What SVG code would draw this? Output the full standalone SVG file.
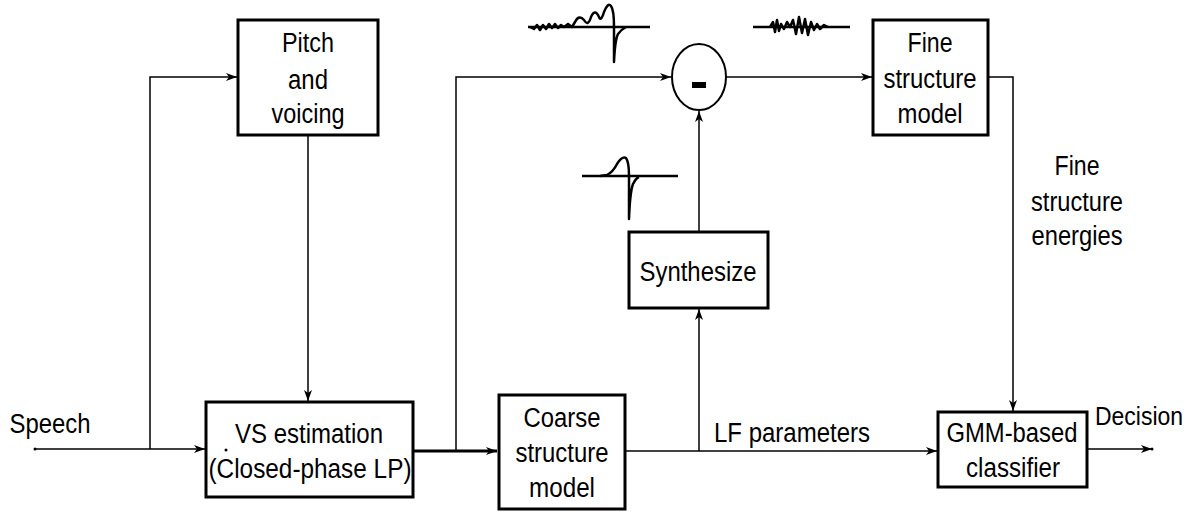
<svg xmlns="http://www.w3.org/2000/svg" width="1197" height="512" viewBox="0 0 1197 512">
<style>
.box{fill:#fff;stroke:#000;stroke-width:3}
.ln{fill:none;stroke:#000;stroke-width:1.5}
.thick{fill:none;stroke:#000;stroke-width:3}
.wave{fill:none;stroke:#000;stroke-width:2.5;stroke-linejoin:round}
text{font-family:"Liberation Sans",Arial,sans-serif;font-size:27px;fill:#000;text-anchor:middle}
</style>
<defs>
<marker id="ah" markerWidth="12" markerHeight="10" refX="11" refY="4" orient="auto" markerUnits="userSpaceOnUse">
<path d="M0,0 L11,4 L0,8 L3,4 z" fill="#000"/>
</marker>
</defs>
<rect width="1197" height="512" fill="#fff"/>
<g id="connectors">
<path class="ln" d="M35,449 H205" marker-end="url(#ah)"/>
<path class="ln" d="M150,449 V77 H237" marker-end="url(#ah)"/>
<path class="ln" d="M308,135 V401" marker-end="url(#ah)"/>
<path class="thick" d="M413,451 H497" marker-end="url(#ah)"/>
<path class="ln" d="M456,451 V77 H671" marker-end="url(#ah)"/>
<path class="ln" d="M726,77 H872" marker-end="url(#ah)"/>
<path class="ln" d="M988,77 H1013 V411" marker-end="url(#ah)"/>
<path class="ln" d="M625,451 H937" marker-end="url(#ah)"/>
<path class="ln" d="M699,451 V309" marker-end="url(#ah)"/>
<path class="ln" d="M699,232 V111" marker-end="url(#ah)"/>
<path class="ln" d="M1087,449 H1152" marker-end="url(#ah)"/>
<circle cx="35" cy="449" r="1.5" fill="#000"/>
<circle cx="1152" cy="449" r="1.5" fill="#000"/>
</g>
<g id="pitch">
<rect class="box" x="238" y="20" width="140" height="115"/>
<text x="308" y="52" textLength="52" lengthAdjust="spacingAndGlyphs">Pitch</text>
<text x="308" y="89" textLength="40" lengthAdjust="spacingAndGlyphs">and</text>
<text x="308" y="123" textLength="73" lengthAdjust="spacingAndGlyphs">voicing</text>
</g>
<g id="vs">
<rect class="box" x="206" y="402" width="207" height="95"/>
<text x="309" y="443" textLength="148" lengthAdjust="spacingAndGlyphs">VS estimation</text>
<text x="310" y="478" textLength="203" lengthAdjust="spacingAndGlyphs">(Closed-phase LP)</text>
<circle cx="226" cy="450" r="1.5" fill="#000"/>
</g>
<g id="coarse">
<rect class="box" x="499" y="395" width="126" height="114"/>
<text x="562" y="427" textLength="77" lengthAdjust="spacingAndGlyphs">Coarse</text>
<text x="562" y="462" textLength="93" lengthAdjust="spacingAndGlyphs">structure</text>
<text x="562" y="497" textLength="66" lengthAdjust="spacingAndGlyphs">model</text>
</g>
<g id="synthesize">
<rect class="box" x="629" y="232" width="139" height="76"/>
<text x="698" y="281" textLength="117" lengthAdjust="spacingAndGlyphs">Synthesize</text>
</g>
<g id="subtract">
<ellipse cx="699" cy="77" rx="27" ry="33" fill="#fff" stroke="#000" stroke-width="2"/>
<rect x="692" y="82" width="14" height="6" fill="#000"/>
</g>
<g id="fine">
<rect class="box" x="873" y="20" width="115" height="115"/>
<text x="930" y="52" textLength="45" lengthAdjust="spacingAndGlyphs">Fine</text>
<text x="930" y="88" textLength="93" lengthAdjust="spacingAndGlyphs">structure</text>
<text x="930" y="123" textLength="65" lengthAdjust="spacingAndGlyphs">model</text>
</g>
<g id="gmm">
<rect class="box" x="938" y="412" width="149" height="75"/>
<text x="1012" y="442" textLength="131" lengthAdjust="spacingAndGlyphs">GMM-based</text>
<text x="1013" y="477" textLength="94" lengthAdjust="spacingAndGlyphs">classifier</text>
</g>
<g id="labels">
<text x="50" y="433" textLength="81" lengthAdjust="spacingAndGlyphs">Speech</text>
<text x="792" y="442" textLength="156" lengthAdjust="spacingAndGlyphs">LF parameters</text>
<text x="1077" y="175" textLength="45" lengthAdjust="spacingAndGlyphs">Fine</text>
<text x="1077" y="211" textLength="92" lengthAdjust="spacingAndGlyphs">structure</text>
<text x="1077" y="245" textLength="91" lengthAdjust="spacingAndGlyphs">energies</text>
<text x="1139" y="425" style="font-size:25px" textLength="88" lengthAdjust="spacingAndGlyphs">Decision</text>
</g>
<g id="waveforms">
<path class="wave" d="M528,27 H650"/>
<path class="wave" d="M530,27 L534,29 L537,25 L540,30 L543,25 L546,29 L549,24 L552,28 L555,24 L558,28 L561,25 L564,27 L568,24 L572,27 L575,22 Q579,14 584,20 Q588,27 591,17 Q595,8 599,17 Q601,22 604,12 Q608,2 611,6 Q614,10 614,27 L614,62 Q615,40 618,34 Q622,29 626,27"/>
<path class="wave" d="M753,27 H850"/>
<path class="wave" d="M770,27 L773,22 L775,32 L777,20 L779,31 L781,24 L784,29 L787,22 L790,27 L793,20 L796,34 L799,17 L802,33 L805,19 L808,35 L811,22 L814,30 L817,24 L820,29 L824,25 L828,27"/>
<path class="wave" d="M582,176 H678"/>
<path class="wave" d="M600,176 L607,175 Q613,172 617,164 Q622,156 626,158 Q629,162 629,176 L629,219 Q630,192 633,184 Q636,178 639,177"/>
</g>
</svg>
